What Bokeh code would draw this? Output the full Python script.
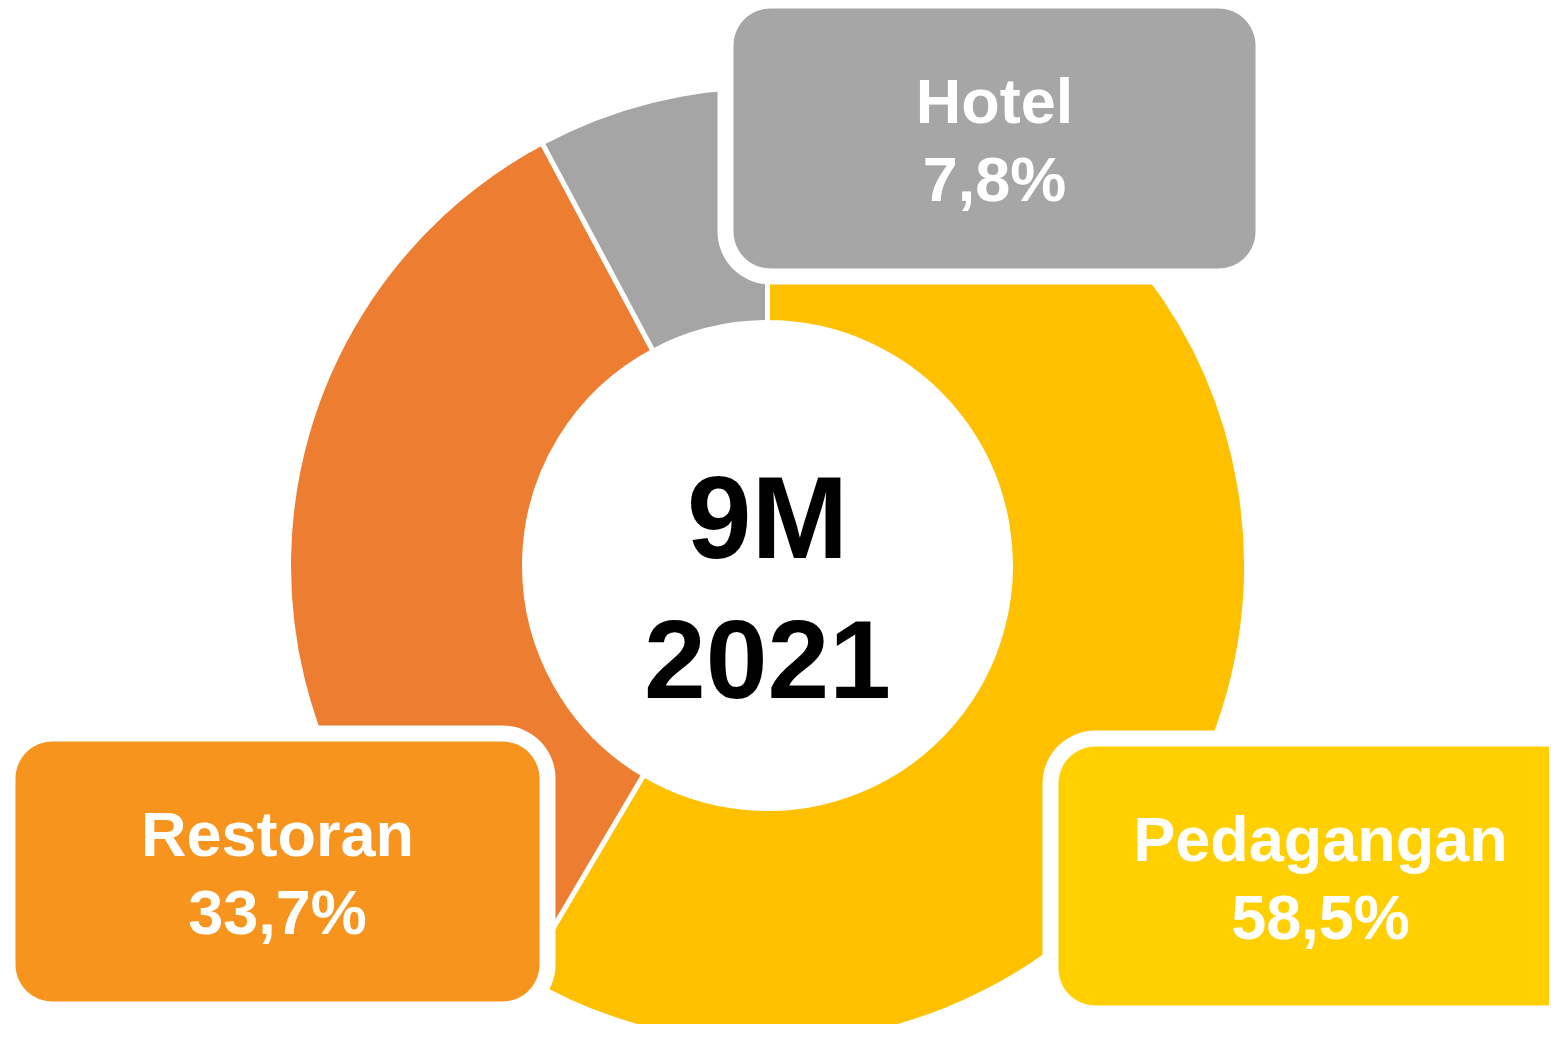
import numpy as np
from bokeh.plotting import figure
from bokeh.models import Range1d, ColumnDataSource
from bokeh.core.properties import value
from bokeh.embed import file_html
from bokeh.resources import INLINE

# ---- data ----
categories = ["Pedagangan", "Restoran", "Hotel"]
shares = [58.5, 33.7, 7.8]
share_labels = ["58,5%", "33,7%", "7,8%"]
slice_colors = ["#FFC000", "#ED7D31", "#A5A5A5"]
box_colors = ["#FFCF00", "#F7941E", "#A6A6A6"]
center_lines = ["9M", "2021"]

W, H = 1549, 1024
p = figure(width=W, height=H, x_range=Range1d(0, 1549), y_range=Range1d(16, 1040),
           output_backend="svg", toolbar_location=None, min_border=0)
p.axis.visible = False
p.grid.visible = False
p.outline_line_color = None
p.background_fill_color = "white"
p.border_fill_color = "white"


def Y(py):
    return 1040 - py


# baseline correction for the svg text renderer
def TB(py, fs):
    return Y(py - 0.35 * fs)


# ---- donut ----
cx, cy = 767, Y(565)
total = sum(shares)
cum = np.cumsum([0] + shares) / total
start = np.pi / 2 - 2 * np.pi * cum[:-1]
end = np.pi / 2 - 2 * np.pi * cum[1:]
src = ColumnDataSource(dict(start=start, end=end, color=slice_colors, cat=categories))
p.annular_wedge(x=cx, y=cy, inner_radius=243, outer_radius=479,
                start_angle="start", end_angle="end", direction="clock",
                fill_color="color", line_color="white", line_width=5, source=src)


# ---- label boxes ----
def rrect(x0, x1, py0, py1, r, n=20):
    y0, y1 = Y(py1), Y(py0)
    xs, ys = [], []
    corners = [(x1 - r, y1 - r, 0), (x0 + r, y1 - r, 90), (x0 + r, y0 + r, 180), (x1 - r, y0 + r, 270)]
    for (ccx, ccy, a0) in corners:
        t = np.radians(np.linspace(a0, a0 + 90, n))
        xs += list(ccx + r * np.cos(t))
        ys += list(ccy + r * np.sin(t))
    return xs, ys


box_geom = {  # x0, x1, top, bottom (pixel layout)
    "Pedagangan": (1058, 1582, 746, 1005),
    "Restoran": (15, 539, 741, 1001),
    "Hotel": (733, 1255, 8, 268),
}
bw = 16
r = 37
wx, wy, fx, fy = [], [], [], []
for c in categories:
    x0, x1, t, b = box_geom[c]
    xs, ys = rrect(x0 - bw, x1 + bw, t - bw, b + bw, r + bw)
    wx.append(xs); wy.append(ys)
    xs, ys = rrect(x0, x1, t, b, r)
    fx.append(xs); fy.append(ys)

p.patches(wx, wy, fill_color="white", line_color=None)
p.patches(fx, fy, fill_color=box_colors, line_color=None)

FS = 63
tx, ty1, ty2 = [], [], []
for c in categories:
    x0, x1, t, b = box_geom[c]
    tx.append((x0 + x1) / 2)
    ty1.append(TB(t + 115, FS))
    ty2.append(TB(t + 193, FS))

lab = ColumnDataSource(dict(x=tx, y1=ty1, y2=ty2, name=categories, pct=share_labels))
for ycol, tcol in (("y1", "name"), ("y2", "pct")):
    p.text(x="x", y=ycol, text=tcol, source=lab, text_color="white",
           text_font=value("Liberation Sans"), text_font_style="bold",
           text_font_size=value(f"{FS}px"), text_align="center", text_baseline="alphabetic")

# ---- centre text ----
for txt, base, fs in ((center_lines[0], 558, 116), (center_lines[1], 698, 111)):
    p.text(x=[cx], y=[TB(base, fs)], text=[txt], text_color="black",
           text_font=value("Liberation Sans"), text_font_style="bold",
           text_font_size=value(f"{fs}px"), text_align="center", text_baseline="alphabetic")

open("out.html", "w").write(file_html(p, INLINE))
